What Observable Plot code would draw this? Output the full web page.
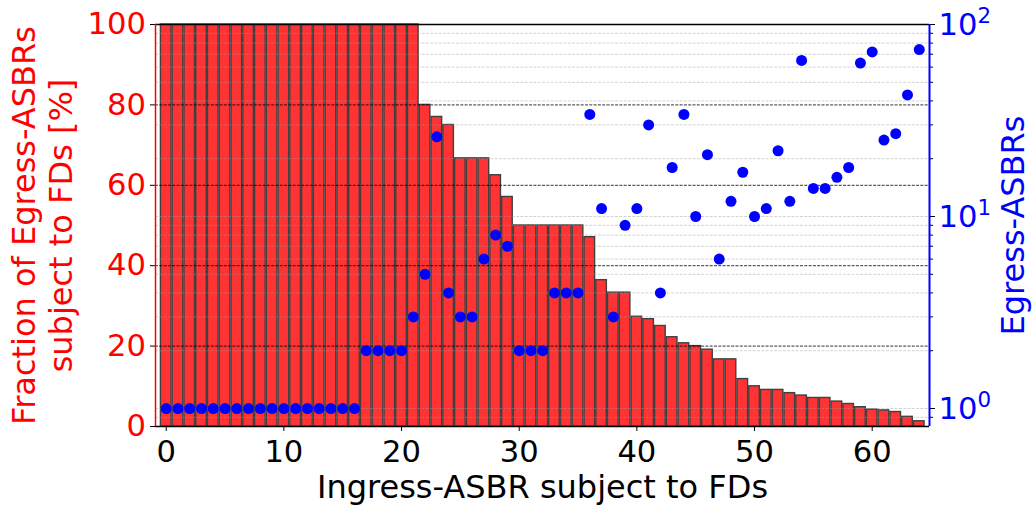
<!DOCTYPE html>
<html><head><meta charset="utf-8">
<script src="https://cdn.jsdelivr.net/npm/d3@7"></script>
<script src="https://cdn.jsdelivr.net/npm/@observablehq/plot@0.6"></script>
<style>
body{margin:0;background:#fff}
#wrap{position:relative;width:1033px;height:505px}
#wrap svg{position:absolute;left:0;top:0}
</style>
</head><body><div id="wrap"></div>
<script>
// ---- data ----
const ingressIds = d3.range(65);
const fractionPct = [100,100,100,100,100,100,100,100,100,100,100,100,100,100,100,100,100,100,100,100,100,100,
  80,77,75,66.7,66.7,66.7,62.5,57.1,50,50,50,50,50,50,47.1,36.4,33.3,33.3,
  27.3,26.7,25,22.2,20.7,20,19.1,16.7,16.7,11.8,10,9.1,9.1,8.3,7.7,7.1,7.1,6.2,5.6,4.8,4.2,4.0,3.6,2.4,1.3];
const egressCount = [1,1,1,1,1,1,1,1,1,1,1,1,1,1,1,1,1,2,2,2,2,
  3,5,26,4,3,3,6,8,7,2,2,2,4,4,4,
  34,11,3,9,11,30,4,18,34,10,21,6,12,17,10,11,22,12,65,14,14,16,18,63,72,25,27,43,74];
const xTicks = [0,10,20,30,40,50,60];
const leftTicks = [0,20,40,60,80,100];
const leftGrid = [20,40,60,80];
const rightMajor = [1,10,100];
const rightExp = ["0","1","2"];
const rightMinor = [0.9,2,3,4,5,6,7,8,9,20,30,40,50,60,70,80,90];
const xLabel = "Ingress-ASBR subject to FDs";
const yLabelLines = ["Fraction of Egress-ASBRs","subject to FDs [%]"];
const y2Label = "Egress-ASBRs";

const xDomain = [-0.91, 64.87];
const yDomain = [0, 100];
const yLogDomain = [0.806, 100];

const data = ingressIds.map((i,k)=>({i, frac: fractionPct[k], egress: egressCount[k]}));

const FS = 30.6;   // tick labels
const LFS = 32;    // axis titles
const common = {
  width:1033, height:505,
  marginTop:24, marginRight:104, marginBottom:79, marginLeft:155,
  style:{fontFamily:"DejaVu Sans", fontSize:FS+"px", background:"transparent", overflow:"visible"}
};

const p1 = Plot.plot({...common,
  x:{domain:xDomain, axis:null},
  y:{domain:yDomain, axis:null},
  marks:[
    Plot.rectY(data,{x1:d=>d.i-0.45, x2:d=>d.i+0.45, y:"frac", fill:"#ff3333", stroke:"#404040", strokeWidth:1.4}),
    Plot.ruleY(leftGrid,{stroke:"black", strokeWidth:0.8, strokeDasharray:"3,1.3"}),
    Plot.axisY({ticks:leftTicks, tickSize:5, tickPadding:4.5, stroke:"black", fill:"red", fontSize:FS, label:null}),
    Plot.axisX({ticks:xTicks, tickSize:5, tickPadding:9, stroke:"black", fill:"black", fontSize:FS, label:null}),
    Plot.text([yLabelLines[0]],{frameAnchor:"left", rotate:-90, textAnchor:"middle", dx:-130.5, fill:"red", fontSize:LFS}),
    Plot.text([yLabelLines[1]],{frameAnchor:"left", rotate:-90, textAnchor:"middle", dx:-93.5, fill:"red", fontSize:LFS}),
    Plot.text([xLabel],{frameAnchor:"bottom", lineAnchor:"top", dy:48.5, textAnchor:"middle", fill:"black", fontSize:LFS})
  ]
});

const p2 = Plot.plot({...common,
  x:{domain:xDomain, axis:null},
  y:{type:"log", domain:yLogDomain, axis:null},
  marks:[
    Plot.ruleY([...rightMinor, ...rightMajor],{stroke:"#999", strokeOpacity:0.55, strokeWidth:0.8, strokeDasharray:"3,1.3"}),
    Plot.dot(data,{x:"i", y:"egress", r:5.5, fill:"blue"}),
    Plot.axisY({anchor:"right", ticks:rightMajor, tickSize:5, tickFormat:()=>"", stroke:"black", label:null}),
    Plot.axisY({anchor:"right", ticks:rightMinor, tickSize:3, tickFormat:()=>"", stroke:"black", label:null}),
    Plot.text(rightMajor,{y:d=>d, frameAnchor:"right", textAnchor:"start", dx:9, dy:1, text:()=>"10", fill:"blue", fontSize:FS}),
    Plot.text(rightMajor,{y:d=>d, frameAnchor:"right", textAnchor:"start", dx:47.9, dy:-8.2, text:(d,i)=>rightExp[i], fill:"blue", fontSize:21.4}),
    Plot.text([y2Label],{frameAnchor:"right", rotate:-90, textAnchor:"middle", dx:84.5, fill:"blue", fontSize:LFS}),
    Plot.ruleY([yLogDomain[1]],{stroke:"black", strokeWidth:1.5}),
    Plot.ruleY([yLogDomain[0]],{stroke:"black", strokeWidth:1.5}),
    Plot.ruleX([xDomain[0]],{stroke:"red", strokeWidth:1.5}),
    Plot.ruleX([xDomain[1]],{stroke:"blue", strokeWidth:2})
  ]
});

const wrap = document.getElementById("wrap");
wrap.appendChild(p1);
wrap.appendChild(p2);
</script>
</body></html>
